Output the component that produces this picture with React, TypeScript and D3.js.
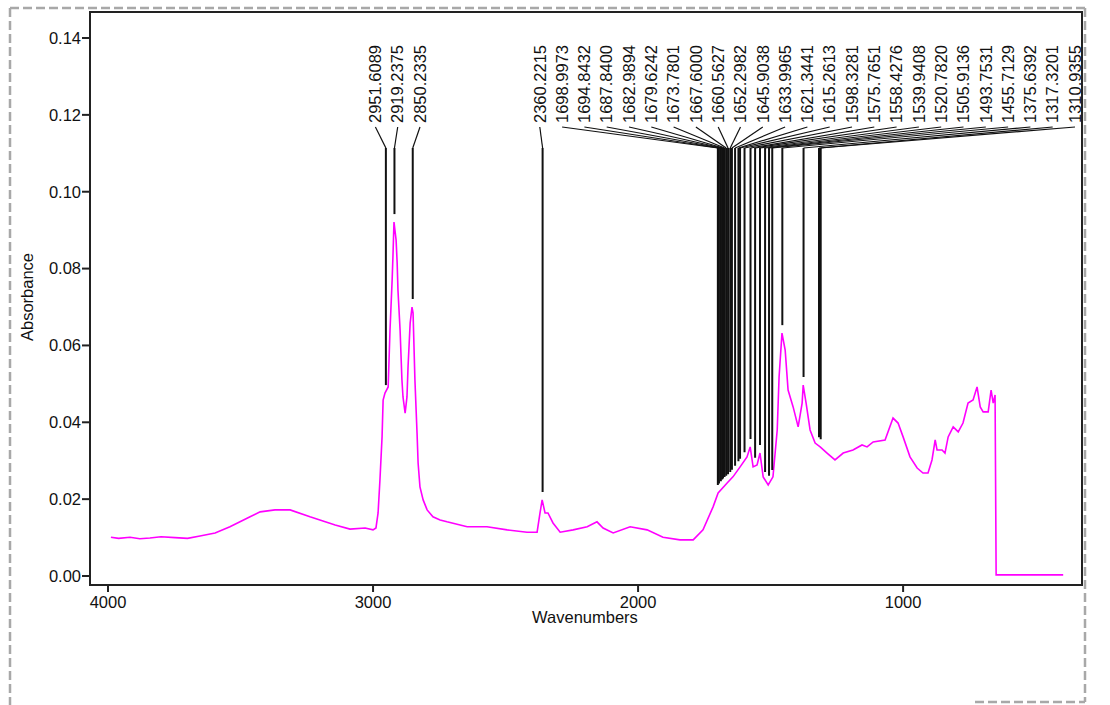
import React from "react";
import * as d3 from "d3";

// ---- Spectrum (wavenumber cm-1, absorbance) ----
const specWn = [
  3989, 3960, 3917, 3880, 3842, 3800, 3747, 3700, 3653, 3596, 3540, 3464, 3426, 3370, 3313, 3238, 3143, 3087, 3030, 3000,
  2989, 2981, 2974, 2966, 2962, 2955, 2943, 2936, 2928, 2925, 2921, 2913, 2909, 2906, 2898, 2891, 2887, 2879, 2872, 2868,
  2860, 2853, 2849, 2842, 2834, 2830, 2823, 2811, 2796, 2774, 2747, 2721, 2645, 2570, 2494, 2419, 2381, 2370, 2362, 2351,
  2340, 2321, 2294, 2245, 2192, 2155, 2132, 2094, 2030, 1966, 1906, 1842, 1792, 1755, 1717, 1698, 1664, 1642, 1615, 1589,
  1577, 1566, 1551, 1540, 1528, 1509, 1491, 1475, 1468, 1457, 1445, 1434, 1415, 1396, 1381, 1377, 1366, 1351, 1332, 1313,
  1287, 1257, 1226, 1189, 1155, 1136, 1113, 1068, 1038, 1019, 1000, 974, 947, 925, 906, 891, 879, 872, 853, 842,
  830, 811, 792, 774, 755, 736, 721, 709, 698, 679, 668, 660, 653, 651, 649, 396,
];
const specAbs = [
  0.0101, 0.0098, 0.0101, 0.0097, 0.0099, 0.0102, 0.0100, 0.0098, 0.0104, 0.0112, 0.0128, 0.0154, 0.0167, 0.0172, 0.0172, 0.0154, 0.0133, 0.0122, 0.0125, 0.0120,
  0.0125, 0.0164, 0.0250, 0.0362, 0.0458, 0.0476, 0.0492, 0.0640, 0.0770, 0.0830, 0.0921, 0.0874, 0.0814, 0.0744, 0.0640, 0.0510, 0.0466, 0.0424, 0.0466, 0.0544,
  0.0658, 0.0700, 0.0684, 0.0510, 0.0372, 0.0294, 0.0232, 0.0198, 0.0172, 0.0154, 0.0146, 0.0141, 0.0128, 0.0128, 0.0120, 0.0114, 0.0114, 0.0164, 0.0198, 0.0164,
  0.0164, 0.0138, 0.0114, 0.0120, 0.0128, 0.0141, 0.0125, 0.0112, 0.0128, 0.0120, 0.0101, 0.0094, 0.0094, 0.0120, 0.0180, 0.0216, 0.0242, 0.0258, 0.0284, 0.0310,
  0.0336, 0.0284, 0.0289, 0.0320, 0.0258, 0.0237, 0.0258, 0.0380, 0.0518, 0.0632, 0.0588, 0.0484, 0.0440, 0.0388, 0.0450, 0.0497, 0.0450, 0.0380, 0.0346, 0.0336,
  0.0320, 0.0302, 0.0320, 0.0328, 0.0341, 0.0336, 0.0349, 0.0354, 0.0411, 0.0398, 0.0362, 0.0310, 0.0281, 0.0268, 0.0268, 0.0302, 0.0354, 0.0328, 0.0328, 0.0320,
  0.0362, 0.0388, 0.0375, 0.0398, 0.0450, 0.0458, 0.0492, 0.0440, 0.0427, 0.0427, 0.0484, 0.0450, 0.0471, 0.0242, 0.0003, 0.0003,
];

// ---- Peak labels ----
const peakWn = [
  2951.6089, 2919.2375, 2850.2335,
  2360.2215, 1698.9973, 1694.8432, 1687.84, 1682.9894, 1679.6242, 1673.7801, 1667.6, 1660.5627, 1652.2982, 1645.9038,
  1633.9965, 1621.3441, 1615.2613, 1598.3281, 1575.7651, 1558.4276, 1539.9408, 1520.782, 1505.9136, 1493.7531,
  1455.7129, 1375.6392, 1317.3201, 1310.9355,
];
const peakText = [
  "2951.6089", "2919.2375", "2850.2335",
  "2360.2215", "1698.9973", "1694.8432", "1687.8400", "1682.9894", "1679.6242", "1673.7801", "1667.6000", "1660.5627", "1652.2982", "1645.9038",
  "1633.9965", "1621.3441", "1615.2613", "1598.3281", "1575.7651", "1558.4276", "1539.9408", "1520.7820", "1505.9136", "1493.7531",
  "1455.7129", "1375.6392", "1317.3201", "1310.9355",
];
const peakAbs = [
  0.0476, 0.0921, 0.0700,
  0.0198, 0.0216, 0.0220, 0.0226, 0.0230, 0.0233, 0.0237, 0.0240, 0.0244, 0.0250, 0.0256,
  0.0266, 0.0278, 0.0284, 0.0301, 0.0336, 0.0287, 0.0320, 0.0250, 0.0240, 0.0255,
  0.0632, 0.0497, 0.0340, 0.0335,
];
const firstClusterSize = 3;

const yTicks = [0, 0.02, 0.04, 0.06, 0.08, 0.1, 0.12, 0.14];
const xTicks = [4000, 3000, 2000, 1000];

const W = 1110;
const H = 705;
const frame = { left: 90, top: 12, right: 1082, bottom: 585 };
const FONT = "'Liberation Sans', Arial, sans-serif";

export default function App() {
  const x = d3.scaleLinear().domain([4068, 325]).range([frame.left, frame.right]);
  const y = d3.scaleLinear().domain([-0.00234, 0.14677]).range([frame.bottom, frame.top]);

  const line = d3
    .line<number>()
    .x((_, i) => x(specWn[i]))
    .y((d) => y(d));
  const path = line(specAbs) || "";

  // label layout
  const gap = 22.3;
  const px = peakWn.map((w) => x(w));
  const labelX: number[] = [];
  const c1 = px.slice(0, firstClusterSize);
  const m1 = d3.mean(c1) as number;
  c1.forEach((_, i) => labelX.push(m1 + (i - (c1.length - 1) / 2) * gap));
  const rest = px.length - firstClusterSize;
  const rightMost = frame.right - 7;
  for (let i = 0; i < rest; i++) labelX.push(rightMost - (rest - 1 - i) * gap);

  const labelBottom = 123;
  const leaderTop = 127;
  const elbowY = 148;

  return (
    <svg
      width={W}
      height={H}
      style={{ position: "absolute", left: 0, top: 0, background: "#fff" }}
      fontFamily={FONT}
    >
      <rect x={0} y={0} width={W} height={H} fill="#fff" />
      {/* dashed outer border */}
      <g stroke="#a8a8a8" strokeWidth={2.5} strokeDasharray="9 4" fill="none">
        <line x1={10} y1={8} x2={1085} y2={8} />
        <line x1={10} y1={8} x2={10} y2={705} />
        <line x1={1085} y1={8} x2={1085} y2={702} />
        <line x1={975} y1={702} x2={1085} y2={702} />
      </g>

      {/* spectrum */}
      <path d={path} fill="none" stroke="#ff00ff" strokeWidth={1.6} strokeLinejoin="miter" />

      {/* peak leaders */}
      <g stroke="#111" fill="none">
        {peakWn.map((w, i) => (
          <g key={"l" + i}>
            <polyline
              points={`${labelX[i]},${leaderTop} ${px[i]},${elbowY}`}
              strokeWidth={1.2}
            />
            <line x1={px[i]} y1={elbowY} x2={px[i]} y2={y(peakAbs[i]) - 8} strokeWidth={2} />
          </g>
        ))}
      </g>
      <g fontSize={16.5} fill="#111">
        {peakText.map((t, i) => (
          <text
            key={"t" + i}
            transform={`translate(${labelX[i]},${labelBottom}) rotate(-90)`}
            dy="0.35em"
            textAnchor="start"
          >
            {t}
          </text>
        ))}
      </g>

      {/* frame */}
      <rect
        x={frame.left}
        y={frame.top}
        width={frame.right - frame.left}
        height={frame.bottom - frame.top}
        fill="none"
        stroke="#222"
        strokeWidth={2}
      />

      {/* y axis */}
      <g fontSize={16.5} fill="#111">
        {yTicks.map((t) => (
          <g key={"y" + t}>
            <line x1={frame.left - 8} x2={frame.left} y1={y(t)} y2={y(t)} stroke="#222" strokeWidth={2} />
            <text x={frame.left - 9} y={y(t)} dy="0.35em" textAnchor="end">
              {d3.format(".2f")(t)}
            </text>
          </g>
        ))}
      </g>
      {/* x axis */}
      <g fontSize={16.5} fill="#111">
        {xTicks.map((t) => (
          <g key={"x" + t}>
            <line x1={x(t)} x2={x(t)} y1={frame.bottom} y2={frame.bottom + 7} stroke="#222" strokeWidth={2} />
            <text x={x(t)} y={frame.bottom + 23} textAnchor="middle">
              {t}
            </text>
          </g>
        ))}
      </g>
      <text x={585} y={623} textAnchor="middle" fontSize={16.5} fill="#111">
        Wavenumbers
      </text>
      <text
        transform={`translate(27,297) rotate(-90)`}
        dy="0.35em"
        textAnchor="middle"
        fontSize={16.5}
        fill="#111"
      >
        Absorbance
      </text>
    </svg>
  );
}
